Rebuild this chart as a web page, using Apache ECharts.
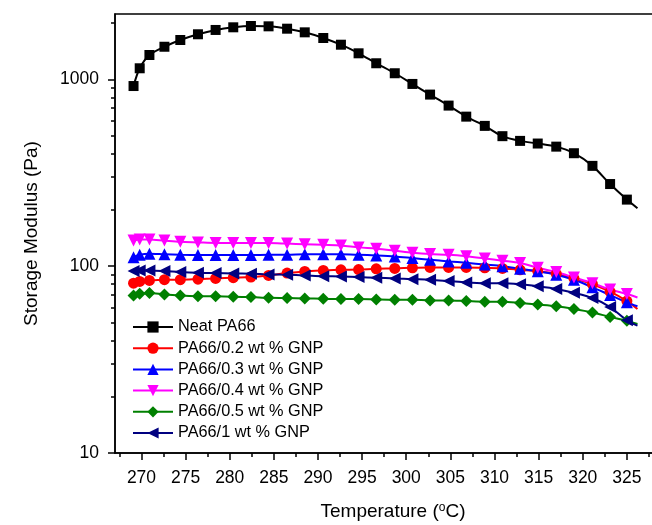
<!DOCTYPE html>
<html>
<head>
<meta charset="utf-8">
<script src="https://cdn.jsdelivr.net/npm/echarts@6/dist/echarts.min.js"></script>
<style>html,body{margin:0;padding:0;background:#fff}#c{width:652px;height:525px}</style>
</head>
<body>
<div id="c"></div>
<script>
// Temperatures (°C) of the measured points
const temps = [269.1, 269.8, 270.9, 272.6, 274.4, 276.4, 278.4, 280.4, 282.4, 284.4, 286.5, 288.5, 290.6, 292.6, 294.6, 296.6, 298.7, 300.7, 302.7, 304.8, 306.8, 308.9, 310.9, 312.9, 314.9, 317.0, 319.0, 321.1, 323.1, 325.0];
// Storage modulus (Pa)
const neatPA66 = [920, 1145, 1349, 1493, 1622, 1741, 1836, 1897, 1928, 1920, 1865, 1783, 1663, 1531, 1377, 1218, 1077, 944, 828, 723, 631, 563, 496, 468, 453, 436, 402, 344, 275, 227];
const gnp02 = [81.1, 82.8, 83.9, 84.6, 84.6, 85.2, 85.9, 86.7, 87.4, 89.2, 91.8, 93.7, 94.8, 95.6, 95.9, 96.8, 97.2, 98, 98.4, 98.4, 98.4, 98, 97.2, 95.6, 94, 91, 86, 80, 73, 65];
const gnp03 = [111.7, 115, 116.5, 115.7, 115, 114.6, 114.6, 114.6, 114.6, 115, 115, 115.7, 115.7, 115.7, 115, 114, 112.6, 110.4, 108.2, 106, 104.2, 102, 100, 96.8, 94, 90, 84.5, 77, 70, 64];
const gnp04 = [137, 139, 139, 137, 135, 134, 133, 133, 133, 133, 132, 131, 130, 129, 126, 124, 121, 118, 116, 115, 113, 110, 107, 104, 98, 93, 87, 81, 75, 71];
const gnp05 = [69.7, 71.2, 71.8, 70.6, 69.7, 69.1, 68.9, 68.6, 68.3, 67.7, 67.5, 67.2, 66.9, 66.6, 66.6, 66.3, 66.1, 66.1, 65.5, 65.5, 65.0, 64.5, 64.5, 63.5, 62.3, 61, 59, 56.5, 53.5, 51];
const gnp1 = [94.1, 94.8, 94.8, 94.1, 92.9, 92.1, 91.8, 91.4, 91.0, 90.3, 89.9, 89.2, 88.4, 88.1, 87.4, 86.7, 85.9, 85.2, 84.6, 83.2, 81.8, 81.1, 81.1, 80, 78, 75.5, 72, 67.5, 60.4, 51.3];
// fitted curve end (no marker)
const curveEndTemp = 326.2;
const curveEndValues = [204, 59, 61, 68, 49, 48];

const seriesNames = ['Neat PA66', 'PA66/0.2 wt % GNP', 'PA66/0.3 wt % GNP', 'PA66/0.4 wt % GNP', 'PA66/0.5 wt % GNP', 'PA66/1 wt % GNP'];
const seriesValues = [neatPA66, gnp02, gnp03, gnp04, gnp05, gnp1];
const seriesColors = ['#000000', '#ff0000', '#0000ff', '#ff00ff', '#008000', '#000080'];
const seriesSymbols = ['rect', 'circle', 'triangle', 'triangle', 'diamond', 'triangle'];
const seriesSymbolRotate = [0, 0, 0, 180, 0, 90];
const seriesSymbolSize = [10, 11, 12, 12, 12, 12];

const xMajorTicks = [270, 275, 280, 285, 290, 295, 300, 305, 310, 315, 320, 325];
const xMinorTicks = [267.5, 272.5, 277.5, 282.5, 287.5, 292.5, 297.5, 302.5, 307.5, 312.5, 317.5, 322.5, 327.5];
const yMajorTicks = [10, 100, 1000];
const yMinorTicks = [20, 30, 40, 50, 60, 70, 80, 90, 200, 300, 400, 500, 600, 700, 800, 900, 2000];

const FONT = 'Liberation Sans, Arial, sans-serif';
const chart = echarts.init(document.getElementById('c'));

const series = seriesNames.map((name, i) => {
  const data = temps.map((t, j) => [t, seriesValues[i][j]]);
  data.push({ value: [curveEndTemp, curveEndValues[i]], symbol: 'none' });
  return {
    name: name,
    type: 'line',
    xAxisIndex: 0,
    yAxisIndex: 0,
    data: data,
    smooth: 0.3,
    symbol: seriesSymbols[i],
    symbolRotate: seriesSymbolRotate[i],
    symbolSize: seriesSymbolSize[i],
    showAllSymbol: true,
    color: seriesColors[i],
    lineStyle: { width: 2, color: seriesColors[i] },
    itemStyle: { color: seriesColors[i] },
    emphasis: { disabled: true },
    animation: false
  };
});

chart.setOption({
  animation: false,
  textStyle: { fontFamily: FONT },
  grid: { left: 115, top: 14, right: -19, bottom: 72, outerBoundsMode: 'none', containLabel: false, show: true, borderColor: '#000', borderWidth: 1.5, backgroundColor: 'transparent' },
  legend: {
    orient: 'vertical', left: 132, top: 319, padding: 0,
    itemWidth: 40, itemHeight: 14, itemGap: 5.2,
    textStyle: { fontSize: 16.3, lineHeight: 14, color: '#000', fontFamily: FONT },
    data: seriesNames
  },
  xAxis: [
    {
      type: 'value', min: 267, max: 330, position: 'bottom',
      name: 'Temperature ({sup|o}C)', nameLocation: 'middle', nameGap: 49,
      nameTextStyle: { fontSize: 19, color: '#000', fontFamily: FONT, rich: { sup: { fontSize: 12, verticalAlign: 'top', padding: [0, 0, 8, 0], fontFamily: FONT, color: '#000' } } },
      axisLine: { show: true, onZero: false, lineStyle: { color: '#000', width: 1.5 } },
      axisTick: { show: true, inside: false, length: 7, customValues: xMajorTicks, lineStyle: { color: '#000', width: 1.5 } },
      axisLabel: { show: true, customValues: xMajorTicks, fontSize: 17.5, color: '#000', margin: 16, fontFamily: FONT },
      splitLine: { show: false }
    },
    {
      type: 'value', min: 267, max: 330, position: 'bottom',
      axisLine: { show: false },
      axisTick: { show: true, inside: false, length: 4, customValues: xMinorTicks, lineStyle: { color: '#000', width: 1.5 } },
      axisLabel: { show: false },
      splitLine: { show: false }
    }
  ],
  yAxis: [
    {
      type: 'log', logBase: 10, min: 10, max: 2235, position: 'left',
      name: 'Storage Modulus (Pa)', nameLocation: 'middle', nameGap: 74,
      nameTextStyle: { fontSize: 19, color: '#000', fontFamily: FONT },
      axisLine: { show: true, onZero: false, lineStyle: { color: '#000', width: 1.5 } },
      axisTick: { show: true, inside: false, length: 7, customValues: yMajorTicks, lineStyle: { color: '#000', width: 1.5 } },
      axisLabel: { show: true, customValues: yMajorTicks, formatter: v => String(Math.round(v)), fontSize: 17.5, color: '#000', margin: 16, fontFamily: FONT },
      splitLine: { show: false }
    },
    {
      type: 'log', logBase: 10, min: 10, max: 2235, position: 'left',
      axisLine: { show: false },
      axisTick: { show: true, inside: false, length: 4, customValues: yMinorTicks, lineStyle: { color: '#000', width: 1.5 } },
      axisLabel: { show: false },
      splitLine: { show: false }
    }
  ],
  series: series
});
</script>
</body>
</html>
